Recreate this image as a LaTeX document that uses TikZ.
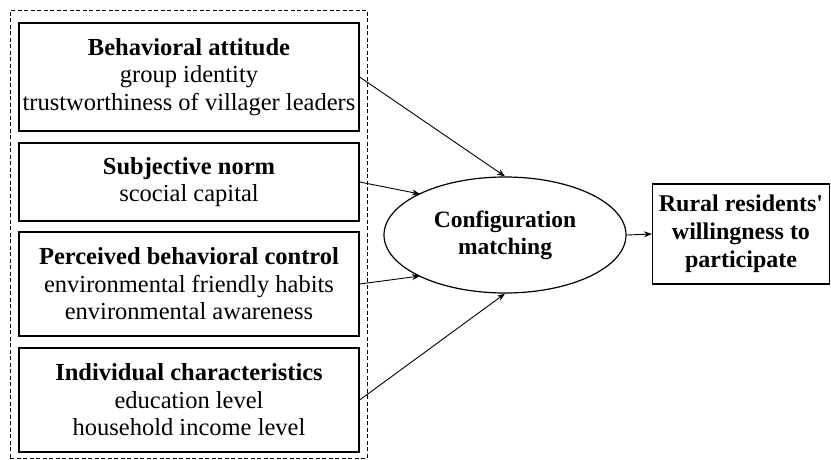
\documentclass[tikz,border=0pt]{standalone}
\usepackage{fontspec}
\setmainfont{Liberation Serif}[Ligatures=TeXOff]
\usetikzlibrary{shapes.geometric,arrows.meta,calc}
\begin{document}
\begin{tikzpicture}[x=1pt,y=-1pt,
  txt/.style={font=\fontsize{24.5}{27.5}\selectfont},
  factor/.style={draw,line width=1.2pt,minimum width=340pt,inner sep=0pt,align=center,txt},
  arr/.style={line width=0.9pt,-{Stealth[length=8pt,width=6pt]}}]
\useasboundingbox (0,0) rectangle (831,459);
\node[draw,dashed,line width=0.8pt,dash pattern=on 4pt off 2.5pt,minimum width=357pt,minimum height=448pt,inner sep=0pt] (grp) at (188.5,234) {};
\node[factor,minimum height=108pt] (ba) at (189,77) {\textbf{Behavioral attitude}\\group identity\\trustworthiness of villager leaders};
\node[factor,minimum height=78pt] (sn) at (189,182) {\textbf{Subjective norm}\\scocial capital};
\node[factor,minimum height=104pt] (pbc) at (189,284) {\textbf{Perceived behavioral control}\\environmental friendly habits\\environmental awareness};
\node[factor,minimum height=104pt] (ic) at (189,400) {\textbf{Individual characteristics}\\education level\\household income level};
\node[draw,ellipse,line width=1.2pt,minimum width=242pt,minimum height=116pt,inner sep=0pt,align=center,font=\fontsize{23.5}{27}\selectfont\bfseries] (cm) at (505,235) {Configuration\\matching};
\node[draw,line width=1.2pt,minimum width=177pt,minimum height=100pt,inner sep=0pt,align=center,font=\fontsize{24}{28}\selectfont\bfseries] (rw) at (741,234) {Rural residents'\\willingness to\\participate};
\coordinate (e2) at ($(cm.center)+(-85,-41)$);
\coordinate (e3) at ($(cm.center)+(-85,41)$);
\draw[arr] (ba.east) -- (cm.north);
\draw[arr] (sn.east) -- (e2);
\draw[arr] (pbc.east) -- (e3);
\draw[arr] (ic.east) -- (cm.south);
\draw[arr] (cm.east) -- (rw.west);
\end{tikzpicture}
\end{document}
